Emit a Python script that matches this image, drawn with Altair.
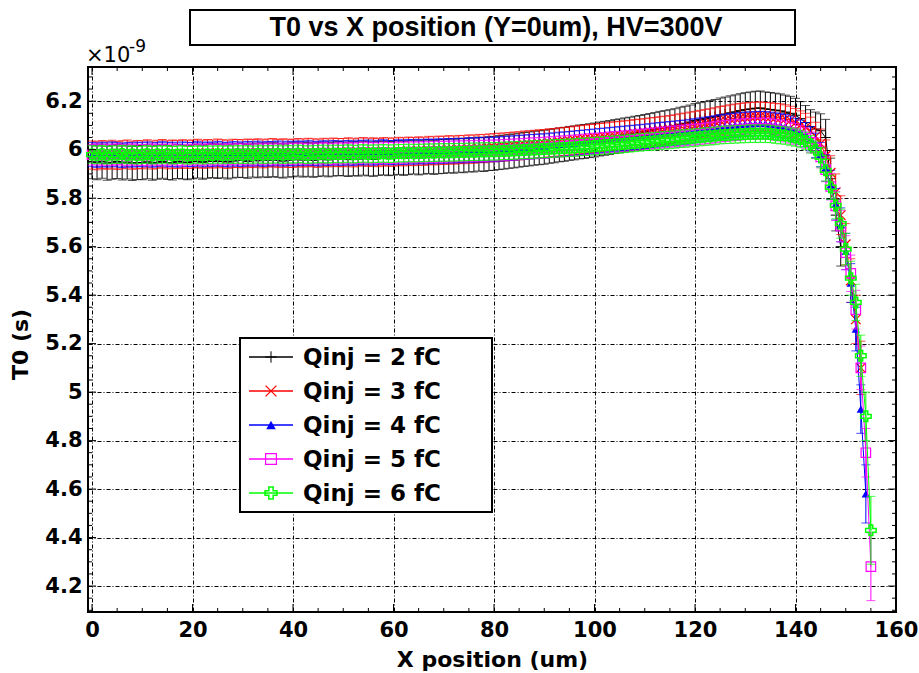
import altair as alt
import pandas as pd

# ---- measured arrival time T0 (in units of 1e-9 s) versus X position (um), 1 um steps ----
T0_2FC = [
    5.950, 5.946, 5.952, 5.944, 5.948, 5.951, 5.945, 5.949, 5.943, 5.947,
    5.946, 5.950, 5.944, 5.948, 5.952, 5.947, 5.945, 5.951, 5.949, 5.946,
    5.950, 5.953, 5.948, 5.952, 5.955, 5.951, 5.954, 5.949, 5.953, 5.956,
    5.955, 5.952, 5.957, 5.954, 5.958, 5.955, 5.959, 5.956, 5.953, 5.957,
    5.958, 5.961, 5.957, 5.960, 5.956, 5.959, 5.962, 5.958, 5.961, 5.963,
    5.962, 5.959, 5.963, 5.961, 5.965, 5.962, 5.960, 5.964, 5.966, 5.963,
    5.965, 5.968, 5.964, 5.967, 5.970, 5.966, 5.969, 5.972, 5.968, 5.971,
    5.972, 5.975, 5.973, 5.977, 5.975, 5.979, 5.978, 5.982, 5.980, 5.984,
    5.985, 5.988, 5.990, 5.993, 5.995, 5.998, 6.001, 6.003, 6.006, 6.008,
    6.010, 6.014, 6.016, 6.020, 6.022, 6.026, 6.028, 6.032, 6.034, 6.037,
    6.040, 6.044, 6.047, 6.050, 6.054, 6.057, 6.061, 6.064, 6.068, 6.071,
    6.075, 6.079, 6.083, 6.088, 6.091, 6.095, 6.099, 6.105, 6.109, 6.114,
    6.120, 6.124, 6.128, 6.133, 6.137, 6.143, 6.147, 6.152, 6.156, 6.161,
    6.165, 6.168, 6.171, 6.172, 6.168, 6.166, 6.163, 6.160, 6.155, 6.150,
    6.142, 6.128, 6.112, 6.095, 6.085, 6.078, 6.050, 5.880, 5.730, 5.600,
]
T0_3FC = [
    5.978, 5.975, 5.980, 5.977, 5.981, 5.976, 5.979, 5.982, 5.977, 5.980,
    5.979, 5.983, 5.978, 5.981, 5.984, 5.979, 5.982, 5.980, 5.983, 5.981,
    5.982, 5.985, 5.981, 5.984, 5.982, 5.986, 5.983, 5.981, 5.985, 5.984,
    5.983, 5.986, 5.984, 5.987, 5.983, 5.986, 5.988, 5.984, 5.987, 5.985,
    5.985, 5.988, 5.986, 5.989, 5.987, 5.985, 5.989, 5.987, 5.990, 5.988,
    5.988, 5.991, 5.987, 5.990, 5.992, 5.989, 5.991, 5.988, 5.992, 5.990,
    5.990, 5.993, 5.991, 5.994, 5.992, 5.995, 5.993, 5.997, 5.995, 5.998,
    5.997, 6.000, 5.998, 6.001, 6.000, 6.003, 6.002, 6.005, 6.004, 6.007,
    6.008, 6.010, 6.011, 6.013, 6.015, 6.016, 6.019, 6.020, 6.022, 6.024,
    6.025, 6.028, 6.029, 6.032, 6.034, 6.036, 6.039, 6.041, 6.043, 6.046,
    6.048, 6.050, 6.052, 6.055, 6.057, 6.059, 6.061, 6.063, 6.066, 6.068,
    6.070, 6.073, 6.075, 6.078, 6.080, 6.083, 6.086, 6.090, 6.093, 6.097,
    6.100, 6.104, 6.108, 6.111, 6.115, 6.120, 6.123, 6.127, 6.130, 6.133,
    6.135, 6.137, 6.138, 6.139, 6.137, 6.136, 6.133, 6.131, 6.127, 6.121,
    6.112, 6.102, 6.092, 6.076, 6.055, 6.025, 5.975, 5.905, 5.825, 5.730,
    5.610, 5.460, 5.300, 5.100,
]
T0_4FC = [
    5.980, 5.977, 5.981, 5.978, 5.982, 5.979, 5.976, 5.980, 5.978, 5.981,
    5.979, 5.982, 5.978, 5.980, 5.983, 5.979, 5.981, 5.978, 5.982, 5.980,
    5.980, 5.983, 5.979, 5.982, 5.980, 5.984, 5.981, 5.979, 5.983, 5.982,
    5.981, 5.984, 5.982, 5.985, 5.981, 5.984, 5.983, 5.986, 5.982, 5.985,
    5.983, 5.986, 5.984, 5.987, 5.985, 5.983, 5.987, 5.985, 5.988, 5.986,
    5.986, 5.988, 5.985, 5.989, 5.987, 5.990, 5.986, 5.989, 5.991, 5.988,
    5.988, 5.991, 5.989, 5.992, 5.990, 5.993, 5.991, 5.994, 5.992, 5.995,
    5.994, 5.996, 5.995, 5.997, 5.996, 5.999, 5.998, 6.000, 5.999, 6.002,
    6.000, 6.003, 6.004, 6.006, 6.007, 6.009, 6.010, 6.012, 6.013, 6.015,
    6.015, 6.018, 6.019, 6.022, 6.023, 6.025, 6.027, 6.029, 6.031, 6.033,
    6.035, 6.037, 6.039, 6.041, 6.043, 6.045, 6.047, 6.049, 6.051, 6.053,
    6.055, 6.057, 6.060, 6.062, 6.064, 6.066, 6.068, 6.070, 6.072, 6.075,
    6.078, 6.081, 6.084, 6.087, 6.090, 6.094, 6.096, 6.099, 6.101, 6.103,
    6.105, 6.106, 6.107, 6.108, 6.107, 6.105, 6.102, 6.099, 6.095, 6.088,
    6.080, 6.072, 6.062, 6.045, 6.018, 5.980, 5.925, 5.855, 5.775, 5.690,
    5.580, 5.450, 5.260, 4.930, 4.580,
]
T0_5FC = [
    5.979, 5.981, 5.977, 5.980, 5.978, 5.982, 5.979, 5.977, 5.981, 5.978,
    5.979, 5.977, 5.981, 5.978, 5.980, 5.977, 5.981, 5.979, 5.976, 5.980,
    5.979, 5.981, 5.978, 5.982, 5.979, 5.981, 5.978, 5.982, 5.980, 5.983,
    5.980, 5.982, 5.979, 5.983, 5.981, 5.984, 5.980, 5.983, 5.981, 5.984,
    5.982, 5.985, 5.983, 5.981, 5.985, 5.983, 5.986, 5.984, 5.982, 5.986,
    5.984, 5.987, 5.984, 5.986, 5.988, 5.985, 5.987, 5.985, 5.988, 5.986,
    5.986, 5.989, 5.987, 5.990, 5.988, 5.990, 5.989, 5.991, 5.990, 5.992,
    5.991, 5.993, 5.992, 5.994, 5.993, 5.995, 5.994, 5.996, 5.995, 5.997,
    5.996, 5.998, 5.999, 6.000, 6.001, 6.002, 6.003, 6.005, 6.006, 6.007,
    6.008, 6.010, 6.011, 6.013, 6.014, 6.016, 6.017, 6.019, 6.021, 6.023,
    6.025, 6.026, 6.028, 6.030, 6.032, 6.033, 6.035, 6.037, 6.039, 6.041,
    6.043, 6.045, 6.047, 6.049, 6.051, 6.053, 6.055, 6.057, 6.059, 6.061,
    6.063, 6.065, 6.067, 6.069, 6.072, 6.075, 6.077, 6.079, 6.081, 6.083,
    6.085, 6.086, 6.087, 6.087, 6.087, 6.086, 6.082, 6.079, 6.075, 6.070,
    6.065, 6.057, 6.047, 6.030, 6.006, 5.970, 5.918, 5.848, 5.768, 5.685,
    5.575, 5.490, 5.340, 5.100, 4.750, 4.280,
]
T0_6FC = [
    5.980, 5.978, 5.981, 5.977, 5.980, 5.979, 5.982, 5.978, 5.980, 5.977,
    5.979, 5.981, 5.977, 5.980, 5.978, 5.981, 5.977, 5.979, 5.980, 5.977,
    5.978, 5.980, 5.977, 5.980, 5.978, 5.981, 5.978, 5.980, 5.979, 5.981,
    5.979, 5.981, 5.978, 5.982, 5.979, 5.981, 5.980, 5.982, 5.979, 5.982,
    5.980, 5.983, 5.981, 5.979, 5.982, 5.981, 5.983, 5.980, 5.983, 5.982,
    5.982, 5.984, 5.981, 5.983, 5.985, 5.982, 5.984, 5.983, 5.985, 5.983,
    5.984, 5.986, 5.985, 5.987, 5.985, 5.987, 5.986, 5.988, 5.987, 5.989,
    5.988, 5.989, 5.989, 5.990, 5.990, 5.991, 5.991, 5.992, 5.992, 5.993,
    5.993, 5.994, 5.995, 5.996, 5.997, 5.998, 5.999, 6.000, 6.001, 6.002,
    6.003, 6.004, 6.005, 6.006, 6.007, 6.008, 6.009, 6.011, 6.012, 6.013,
    6.015, 6.016, 6.018, 6.019, 6.021, 6.022, 6.024, 6.026, 6.028, 6.030,
    6.032, 6.033, 6.035, 6.037, 6.039, 6.040, 6.042, 6.045, 6.046, 6.048,
    6.050, 6.052, 6.054, 6.055, 6.057, 6.060, 6.061, 6.062, 6.063, 6.064,
    6.065, 6.066, 6.066, 6.066, 6.066, 6.065, 6.062, 6.060, 6.058, 6.054,
    6.050, 6.044, 6.036, 6.022, 6.000, 5.968, 5.915, 5.845, 5.770, 5.695,
    5.590, 5.470, 5.370, 5.150, 4.900, 4.430,
]

# uncertainty on T0: typical value along the flat part, then the points of the falling edge
ERR_BODY = {"2": 0.070, "3": 0.058, "4": 0.050, "5": 0.043, "6": 0.036}
ERR_EDGE = {
    "2": [0.070, 0.075, 0.085, 0.065, 0.080],
    "3": [0.060, 0.065, 0.070, 0.075, 0.080, 0.085, 0.090, 0.100, 0.110],
    "4": [0.050, 0.055, 0.060, 0.065, 0.070, 0.075, 0.080, 0.090, 0.100, 0.120],
    "5": [0.045, 0.050, 0.055, 0.060, 0.065, 0.070, 0.075, 0.080, 0.090, 0.100, 0.140],
    "6": [0.040, 0.045, 0.050, 0.055, 0.060, 0.065, 0.070, 0.075, 0.085, 0.100, 0.140],
}

LABELS = ["Qinj = 2 fC", "Qinj = 3 fC", "Qinj = 4 fC", "Qinj = 5 fC", "Qinj = 6 fC"]
KEYS = ["2", "3", "4", "5", "6"]
VALUES = [T0_2FC, T0_3FC, T0_4FC, T0_5FC, T0_6FC]
COLORS = ["#000000", "#ff0000", "#0000ff", "#ff00ff", "#00ff00"]

# marker styles (ROOT-like: plus, x, filled triangle, open square, open cross)
PLUS = "M-1,0L1,0M0,-1L0,1"
XMARK = "M-1,-1L1,1M-1,1L1,-1"
OPEN_CROSS = ("M-0.36,-1L0.36,-1L0.36,-0.36L1,-0.36L1,0.36L0.36,0.36L0.36,1"
              "L-0.36,1L-0.36,0.36L-1,0.36L-1,-0.36L-0.36,-0.36Z")
MARKERS = [
    dict(shape=PLUS, filled=False, size=100, strokeWidth=1),
    dict(shape=XMARK, filled=False, size=90, strokeWidth=1.3),
    dict(shape="triangle-up", filled=True, size=70, strokeWidth=0),
    dict(shape="square", filled=False, size=90, strokeWidth=1.2),
    dict(shape=OPEN_CROSS, filled=False, size=110, strokeWidth=1.5),
]

# axis layout
W, H = 808, 545
X_DOMAIN = [-0.8, 160.0]
Y_DOMAIN = [4.093, 6.341]
X_MAJOR = [0, 20, 40, 60, 80, 100, 120, 140, 160]
Y_MAJOR = [4.2, 4.4, 4.6, 4.8, 5.0, 5.2, 5.4, 5.6, 5.8, 6.0, 6.2]
X_MINOR = [v for v in range(0, 161, 5) if v % 20 != 0]
Y_MINOR = [v / 100 for v in range(410, 635, 5) if v % 20 != 0]

AXIS_FONT = "DejaVu Sans"
x_scale = alt.Scale(domain=X_DOMAIN, nice=False, zero=False)
y_scale = alt.Scale(domain=Y_DOMAIN, nice=False, zero=False)

grid_style = dict(grid=True, gridColor="#000000", gridDash=[4, 2, 1, 2], gridWidth=1,
                  gridOpacity=1, ticks=False, domain=False, labelFont=AXIS_FONT,
                  labelFontWeight="bold", labelFontSize=21, labelColor="#000000",
                  titleFont=AXIS_FONT, titleFontWeight="bold", titleFontSize=22,
                  titleColor="#000000")
x_axis = alt.Axis(values=X_MAJOR, title="X position (um)", labelPadding=7,
                  labelFlush=False, titleX=W / 2, titleY=47, titleAlign="center",
                  titleBaseline="middle", **grid_style)
y_axis = alt.Axis(values=Y_MAJOR, format="~g", title="T0 (s)", labelPadding=6,
                  labelFlush=False, titleX=-68, titleY=277, titleAngle=270,
                  titleAlign="center", titleBaseline="middle", **grid_style)


def X(field):
    return alt.X(field, type="quantitative", scale=x_scale, axis=x_axis)


def Y(field):
    return alt.Y(field, type="quantitative", scale=y_scale, axis=y_axis)


layers = []

# T0 curves with error bars, first series at the bottom
for key, label, vals, color, marker in zip(KEYS, LABELS, VALUES, COLORS, MARKERS):
    edge = ERR_EDGE[key]
    errs = [ERR_BODY[key]] * (len(vals) - len(edge)) + edge
    df = pd.DataFrame({
        "x": list(range(len(vals))),
        "t0": vals,
        "lo": [v - e for v, e in zip(vals, errs)],
        "hi": [v + e for v, e in zip(vals, errs)],
    })
    base = alt.Chart(df)
    layers.append(base.mark_rule(color=color, strokeWidth=1).encode(
        x=X("x"), y=Y("lo"), y2="hi"))
    for end in ("lo", "hi"):
        layers.append(base.mark_tick(color=color, orient="horizontal", size=9,
                                     thickness=1).encode(x=X("x"), y=Y(end)))
    layers.append(base.mark_line(color=color, strokeWidth=1).encode(
        x=X("x"), y=Y("t0")))
    layers.append(base.mark_point(color=color, opacity=1, **marker).encode(
        x=X("x"), y=Y("t0")))

# inward ticks on all four sides of the frame
for vals, length in ((X_MAJOR, 8), (X_MINOR, 4)):
    tdf = alt.Chart(pd.DataFrame({"v": vals}))
    layers.append(tdf.mark_rule(color="#000000", strokeWidth=1).encode(
        x=X("v"), y=alt.value(H), y2=alt.value(H - length)))
    layers.append(tdf.mark_rule(color="#000000", strokeWidth=1).encode(
        x=X("v"), y=alt.value(0), y2=alt.value(length)))
for vals, length in ((Y_MAJOR, 8), (Y_MINOR, 4)):
    tdf = alt.Chart(pd.DataFrame({"v": vals}))
    layers.append(tdf.mark_rule(color="#000000", strokeWidth=1).encode(
        y=Y("v"), x=alt.value(0), x2=alt.value(length)))
    layers.append(tdf.mark_rule(color="#000000", strokeWidth=1).encode(
        y=Y("v"), x=alt.value(W), x2=alt.value(W - length)))

# legend box
one = pd.DataFrame({"k": [0]})
layers.append(alt.Chart(one).mark_rect(fill="#ffffff", stroke="#000000", strokeWidth=2).encode(
    x=alt.value(152), x2=alt.value(404), y=alt.value(271), y2=alt.value(445)))
LEG_Y0, LEG_DY = 290, 34
for i, (label, color, marker) in enumerate(zip(LABELS, COLORS, MARKERS)):
    ry = LEG_Y0 + i * LEG_DY
    ldf = alt.Chart(pd.DataFrame({"label": [label]}))
    layers.append(ldf.mark_rule(color=color, strokeWidth=1.5).encode(
        x=alt.value(161), x2=alt.value(205), y=alt.value(ry)))
    mk = dict(marker)
    mk["size"] = mk["size"] * 1.3
    layers.append(ldf.mark_point(color=color, opacity=1, **mk).encode(
        x=alt.value(183), y=alt.value(ry)))
    layers.append(ldf.mark_text(align="left", baseline="middle", font=AXIS_FONT,
                                fontWeight="bold", fontSize=23, color="#000000").encode(
        x=alt.value(215), y=alt.value(ry + 1), text="label:N"))

# title box above the frame
layers.append(alt.Chart(one).mark_rect(fill="#ffffff", stroke="#000000", strokeWidth=2).encode(
    x=alt.value(102), x2=alt.value(707), y=alt.value(-57), y2=alt.value(-22)))
layers.append(alt.Chart(pd.DataFrame({"t": ["T0 vs X position (Y=0um), HV=300V"]})).mark_text(
    align="center", baseline="alphabetic", font="Liberation Sans", fontWeight="bold",
    fontSize=27, color="#000000").encode(x=alt.value(408), y=alt.value(-31), text="t:N"))

# exponent of the y axis
layers.append(alt.Chart(pd.DataFrame({"t": ["\u00d710"]})).mark_text(
    align="left", baseline="alphabetic", font=AXIS_FONT, fontSize=21,
    color="#000000").encode(x=alt.value(-2), y=alt.value(-5), text="t:N"))
layers.append(alt.Chart(pd.DataFrame({"t": ["-9"]})).mark_text(
    align="left", baseline="alphabetic", font=AXIS_FONT, fontSize=17,
    color="#000000").encode(x=alt.value(41), y=alt.value(-15), text="t:N"))

chart = alt.layer(*layers).properties(
    width=W, height=H, autosize="none",
    padding={"left": 88, "top": 67, "right": 23, "bottom": 61},
    background="#ffffff",
).configure_view(stroke="#000000", strokeWidth=2)

chart.save("out.html", embed_options={"renderer": "svg", "actions": False})
